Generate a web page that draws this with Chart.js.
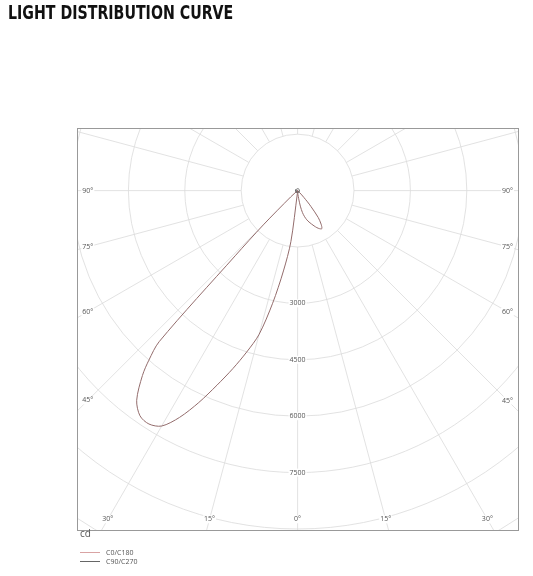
<!DOCTYPE html>
<html>
<head>
<meta charset="utf-8">
<script src="https://cdn.jsdelivr.net/npm/chart.js@4.4.1/dist/chart.umd.min.js"></script>
<style>
  html, body { margin:0; padding:0; background:#fff; }
  #wrap { position:relative; width:533px; height:576px; overflow:hidden; }
  #c { position:absolute; left:0; top:0; }
  #title { position:absolute; left:8px; top:2.5px; font:bold 19px/19px "DejaVu Sans Condensed","Liberation Sans Narrow",sans-serif; color:#111; white-space:nowrap; transform:scaleX(0.83); transform-origin:0 0; }
  #unit { position:absolute; left:80px; top:527px; font:10px/12px "Open Sans",sans-serif; color:#555; }
  .lg { position:absolute; left:80px; height:8px; font:7px/8px "Open Sans",sans-serif; color:#555; white-space:nowrap; }
  .lg i { display:inline-block; width:20px; height:0; border-top:1px solid; vertical-align:middle; margin-right:6px; position:relative; top:-1px; }
</style>
</head>
<body>
<div id="wrap">
  <canvas id="c" width="533" height="576"></canvas>
  <div id="title">LIGHT DISTRIBUTION CURVE</div>
  <div id="unit">cd</div>
  <div class="lg" style="top:549px"><i style="border-color:#d9a3a3"></i>C0/C180</div>
  <div class="lg" style="top:558px"><i style="border-color:#666"></i>C90/C270</div>
</div>
<script>
// gamma angles (deg from nadir)
const gammaAngles = [0, 2.5, 5, 7.5, 10, 12.5, 15, 17.5, 20, 22.5, 25, 27.5, 30, 32.5, 35, 37.5, 40, 41.25, 42.5, 43.75, 45, 47.5, 50, 60, 90, 120, 150, 180];
// luminous intensity (cd)
const c0Values   = [0, 0, 100, 205, 420, 600, 720, 815, 890, 960, 1035, 1110, 1170, 1200, 1090, 900, 550, 400, 250, 160, 80, 0, 0, 0, 0, 0, 0, 0];
const c180Values = [0, 0, 80, 1370, 2170, 3070, 3960, 4500, 5040, 5600, 6220, 6800, 7230, 7360, 7310, 7030, 6420, 6000, 5450, 2400, 1290, 250, 0, 0, 0, 0, 0, 0];
const c90Values  = [50, 50, 50, 50, 50, 50, 50, 50, 50, 50, 50, 50, 50, 50, 50, 50, 50, 50, 50, 50, 50, 50, 50, 50, 50, 50, 50, 50];
const c270Values = [50, 50, 50, 50, 50, 50, 50, 50, 50, 50, 50, 50, 50, 50, 50, 50, 50, 50, 50, 50, 50, 50, 50, 50, 50, 50, 50, 50];
// grid
const ringValues = [1500, 3000, 4500, 6000, 7500, 9000, 10500, 12000];
const ringLabels = [3000, 4500, 6000, 7500];
const spokeAngles = [0,15,30,45,60,75,90,105,120,135,150,165,180,195,210,225,240,255,270,285,300,315,330,345];
const sideLabels = [90, 75, 60, 45];
const bottomLabels = [30, 15, 0];

const deg = Math.PI / 180;
function planePoints(rightVals, leftVals) {
  const pts = [];
  for (let i = 0; i < gammaAngles.length; i++) {
    const g = gammaAngles[i] * deg;
    pts.push({ x: rightVals[i] * Math.sin(g), y: -rightVals[i] * Math.cos(g) });
  }
  for (let i = gammaAngles.length - 1; i >= 0; i--) {
    const g = gammaAngles[i] * deg;
    pts.push({ x: -leftVals[i] * Math.sin(g), y: -leftVals[i] * Math.cos(g) });
  }
  return pts;
}

const GRID = '#dadada';
const TXT = '#555';
const LABEL_FONT = '7px "Open Sans", sans-serif';

function label(ctx, text, x, y) {
  ctx.font = LABEL_FONT;
  const w = ctx.measureText(text).width;
  ctx.fillStyle = '#fff';
  ctx.fillRect(x - w / 2 - 1, y - 4, w + 2, 8);
  ctx.fillStyle = TXT;
  ctx.textAlign = 'center';
  ctx.textBaseline = 'middle';
  ctx.fillText(text, x, y);
}

const polarGrid = {
  id: 'polarGrid',
  beforeDatasetsDraw(chart) {
    const { ctx, chartArea: a, scales: { x, y } } = chart;
    const cx = x.getPixelForValue(0), cy = y.getPixelForValue(0);
    const pr = v => x.getPixelForValue(v) - cx;
    ctx.save();
    ctx.beginPath(); ctx.rect(a.left, a.top, a.width, a.height); ctx.clip();
    ctx.strokeStyle = GRID; ctx.lineWidth = 0.8;
    ringValues.forEach(v => { ctx.beginPath(); ctx.arc(cx, cy, pr(v), 0, 2 * Math.PI); ctx.stroke(); });
    const r0 = pr(ringValues[0]), r1 = pr(ringValues[ringValues.length - 1]);
    spokeAngles.forEach(d => {
      const t = d * deg;
      ctx.beginPath();
      ctx.moveTo(cx + r0 * Math.sin(t), cy + r0 * Math.cos(t));
      ctx.lineTo(cx + r1 * Math.sin(t), cy + r1 * Math.cos(t));
      ctx.stroke();
    });
    ringLabels.forEach(v => label(ctx, String(v), cx, cy + pr(v)));
    sideLabels.forEach(d => {
      const t = d * deg;
      const xl = a.left + 10.8, xr = a.right - 11.5;
      label(ctx, d + '°', xl, cy + (cx - xl) * Math.cos(t) / Math.sin(t));
      label(ctx, d + '°', xr, cy + (xr - cx) * Math.cos(t) / Math.sin(t));
    });
    bottomLabels.forEach(d => {
      const t = d * deg;
      const yb = a.bottom - 11.7;
      const dx = (yb - cy) * Math.tan(t);
      label(ctx, d + '°', cx - dx, yb);
      if (d !== 0) label(ctx, d + '°', cx + dx, yb);
    });
    ctx.restore();
  },
  afterDraw(chart) {
    const { ctx, chartArea: a } = chart;
    ctx.save();
    ctx.strokeStyle = '#999'; ctx.lineWidth = 1;
    ctx.strokeRect(Math.round(a.left) + 0.5, Math.round(a.top) + 0.5, Math.round(a.width) - 1, Math.round(a.height) - 1);
    ctx.restore();
  }
};

const K = 56.4 / 1500; // px per cd
const padL = 77, padT = 128, padR = 14, padB = 45;
const cxPx = 297.6, cyPx = 190.6;
const areaW = 533 - padL - padR, areaH = 576 - padT - padB;

new Chart(document.getElementById('c'), {
  type: 'scatter',
  data: {
    datasets: [
      { label: 'C90/C270', data: planePoints(c90Values, c270Values), showLine: true, borderColor: '#666', borderWidth: 1, pointRadius: 0, tension: 0, fill: false },
      { label: 'C0/C180', data: planePoints(c0Values, c180Values), showLine: true, borderColor: '#936c6c', borderWidth: 1, pointRadius: 0, tension: 0.3, fill: false }
    ]
  },
  options: {
    responsive: false,
    animation: false,
    layout: { padding: { left: padL, top: padT, right: padR, bottom: padB } },
    plugins: { legend: { display: false }, tooltip: { enabled: false }, title: { display: false } },
    scales: {
      x: { type: 'linear', display: false, min: -(cxPx - padL) / K, max: (padL + areaW - cxPx) / K },
      y: { type: 'linear', display: false, min: -(padT + areaH - cyPx) / K, max: (cyPx - padT) / K }
    }
  },
  plugins: [polarGrid]
});
</script>
</body>
</html>
